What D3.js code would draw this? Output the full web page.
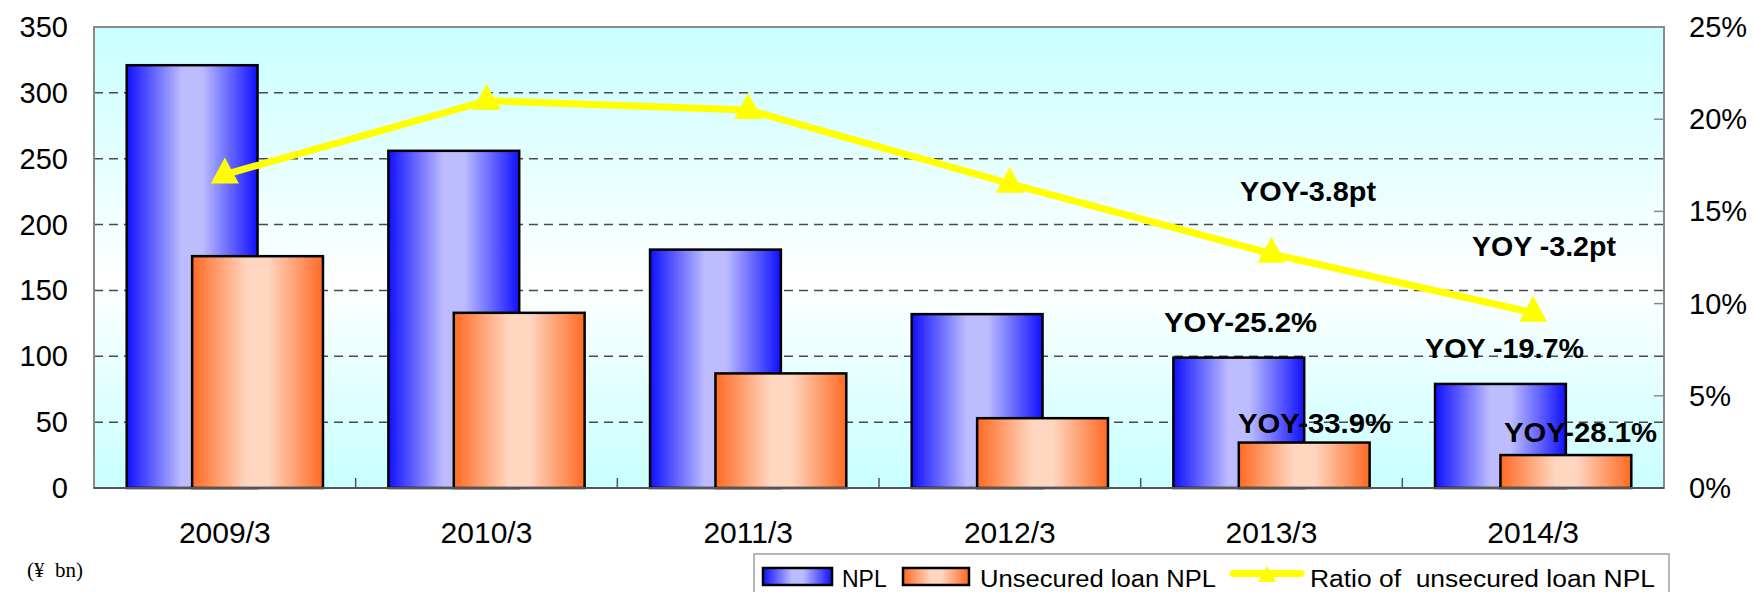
<!DOCTYPE html>
<html>
<head>
<meta charset="utf-8">
<script src="https://cdn.jsdelivr.net/npm/d3@7"></script>
<style>
  html, body { margin: 0; padding: 0; background: #ffffff; }
  svg { display: block; }
</style>
</head>
<body>
<svg id="chart" width="1756" height="592"></svg>
<script>
// ── DATA ──────────────────────────────────────────────────────────────────────
const categories   = ['2009/3', '2010/3', '2011/3', '2012/3', '2013/3', '2014/3'];
const nplValues    = [321, 256, 181, 132, 99, 79];
const unsecValues  = [176, 133, 87, 53, 34.5, 25];
const ratioValues  = [17.0, 21.0, 20.5, 16.5, 12.7, 9.5];   // %
const leftTicks    = [0, 50, 100, 150, 200, 250, 300, 350];
const rightTicks   = [0, 5, 10, 15, 20, 25];
const seriesNames  = ['NPL', 'Unsecured loan NPL', 'Ratio of  unsecured loan NPL'];
const annotations  = ['YOY-3.8pt', 'YOY -3.2pt', 'YOY-25.2%', 'YOY -19.7%', 'YOY-33.9%', 'YOY-28.1%'];
const unitLabel    = '(¥  bn)';

// ── LAYOUT ────────────────────────────────────────────────────────────────────
const W = 1756, H = 592;
const plot = { left: 94, top: 27, right: 1664, bottom: 488 };
const FONT = "'Liberation Sans', Arial, Helvetica, sans-serif";

// annotation placement (x start, baseline, fitted width)
const annotPos = [
  [1240, 201, 136],
  [1472, 256, 144],
  [1164, 332, 153],
  [1425, 358, 159],
  [1238, 433, 153],
  [1504, 442, 153],
];

const svg = d3.select('#chart');
const defs = svg.append('defs');

// ── GRADIENTS ─────────────────────────────────────────────────────────────────
const bg = defs.append('linearGradient').attr('id', 'plot-bg')
  .attr('x1', 0).attr('y1', 0).attr('x2', 0).attr('y2', 1);
bg.append('stop').attr('offset', '0%').attr('stop-color', '#c8ffff');
bg.append('stop').attr('offset', '55%').attr('stop-color', '#ffffff');
bg.append('stop').attr('offset', '100%').attr('stop-color', '#c8ffff');

function barGradient(id, edge, mid) {
  const g = defs.append('linearGradient').attr('id', id)
    .attr('x1', 0).attr('y1', 0).attr('x2', 1).attr('y2', 0);
  g.append('stop').attr('offset', '0%').attr('stop-color', edge);
  g.append('stop').attr('offset', '42%').attr('stop-color', mid);
  g.append('stop').attr('offset', '58%').attr('stop-color', mid);
  g.append('stop').attr('offset', '100%').attr('stop-color', edge);
}
barGradient('grad-npl', '#1010ff', '#bcbcff');
barGradient('grad-unsec', '#ff6a24', '#ffd6bf');

// ── SCALES ────────────────────────────────────────────────────────────────────
const x = d3.scaleBand().domain(categories).range([plot.left, plot.right]).padding(0);
const yL = d3.scaleLinear().domain([0, 350]).range([plot.bottom, plot.top]);
const yR = d3.scaleLinear().domain([0, 25]).range([plot.bottom, plot.top]);

const bw = x.bandwidth();
const barW = bw * 0.5;
const barOff = bw * 0.125;

// ── PLOT AREA ─────────────────────────────────────────────────────────────────
svg.append('rect')
  .attr('x', plot.left).attr('y', plot.top)
  .attr('width', plot.right - plot.left).attr('height', plot.bottom - plot.top)
  .attr('fill', 'url(#plot-bg)');

// gridlines (left axis)
svg.append('g').attr('class', 'grid')
  .selectAll('line')
  .data(leftTicks.filter(d => d > 0 && d < 350))
  .join('line')
  .attr('x1', plot.left).attr('x2', plot.right)
  .attr('y1', d => yL(d)).attr('y2', d => yL(d))
  .attr('stroke', '#4a4a4a')
  .attr('stroke-width', 1.5)
  .attr('stroke-dasharray', '9,6');

// plot frame
svg.append('rect')
  .attr('x', plot.left).attr('y', plot.top)
  .attr('width', plot.right - plot.left).attr('height', plot.bottom - plot.top)
  .attr('fill', 'none').attr('stroke', '#8a8a8a').attr('stroke-width', 2);

// ── BARS ──────────────────────────────────────────────────────────────────────
const bars = svg.append('g').attr('class', 'bars');

bars.selectAll('rect.npl')
  .data(categories)
  .join('rect')
  .attr('class', 'npl')
  .attr('x', d => x(d) + barOff)
  .attr('y', (d, i) => yL(nplValues[i]))
  .attr('width', barW)
  .attr('height', (d, i) => yL(0) - yL(nplValues[i]))
  .attr('fill', 'url(#grad-npl)')
  .attr('stroke', '#000').attr('stroke-width', 2.5);

bars.selectAll('rect.unsec')
  .data(categories)
  .join('rect')
  .attr('class', 'unsec')
  .attr('x', d => x(d) + barOff + barW / 2)
  .attr('y', (d, i) => yL(unsecValues[i]))
  .attr('width', barW)
  .attr('height', (d, i) => yL(0) - yL(unsecValues[i]))
  .attr('fill', 'url(#grad-unsec)')
  .attr('stroke', '#000').attr('stroke-width', 2.5);

// ── AXES ──────────────────────────────────────────────────────────────────────
// bottom axis line + category ticks
svg.append('line')
  .attr('x1', plot.left).attr('x2', plot.right)
  .attr('y1', plot.bottom).attr('y2', plot.bottom)
  .attr('stroke', '#555').attr('stroke-width', 2);

svg.append('g')
  .selectAll('line')
  .data(categories.slice(1))
  .join('line')
  .attr('x1', d => x(d)).attr('x2', d => x(d))
  .attr('y1', plot.bottom).attr('y2', plot.bottom - 10)
  .attr('stroke', '#555').attr('stroke-width', 1.5);

svg.append('g')
  .selectAll('text')
  .data(categories)
  .join('text')
  .attr('x', d => x(d) + bw / 2)
  .attr('y', 543)
  .attr('text-anchor', 'middle')
  .attr('font-family', FONT).attr('font-size', 30)
  .attr('fill', '#000')
  .text(d => d);

// left axis labels
svg.append('g')
  .selectAll('text')
  .data(leftTicks)
  .join('text')
  .attr('x', 68)
  .attr('y', d => yL(d) + 10)
  .attr('text-anchor', 'end')
  .attr('font-family', FONT).attr('font-size', 29)
  .attr('fill', '#000')
  .text(d => d);

// right axis inward ticks + labels
svg.append('g')
  .selectAll('line')
  .data(rightTicks.filter(d => d > 0 && d < 25))
  .join('line')
  .attr('x1', plot.right - 10).attr('x2', plot.right)
  .attr('y1', d => yR(d)).attr('y2', d => yR(d))
  .attr('stroke', '#8a8a8a').attr('stroke-width', 1.5);

svg.append('g')
  .selectAll('text')
  .data(rightTicks)
  .join('text')
  .attr('x', 1689)
  .attr('y', d => yR(d) + 10)
  .attr('text-anchor', 'start')
  .attr('font-family', FONT).attr('font-size', 29)
  .attr('fill', '#000')
  .text(d => d + '%');

// ── RATIO LINE ────────────────────────────────────────────────────────────────
const line = d3.line()
  .x((d, i) => x(categories[i]) + bw / 2)
  .y(d => yR(d));

svg.append('path')
  .datum(ratioValues)
  .attr('d', line)
  .attr('fill', 'none')
  .attr('stroke', '#ffff00')
  .attr('stroke-width', 7)
  .attr('stroke-linejoin', 'round');

const tri = 'M0,-17L14,9L-14,9Z';
svg.append('g')
  .selectAll('path')
  .data(ratioValues)
  .join('path')
  .attr('transform', (d, i) => `translate(${x(categories[i]) + bw / 2},${yR(d)})`)
  .attr('d', tri)
  .attr('fill', '#ffff00');

// ── ANNOTATIONS ───────────────────────────────────────────────────────────────
svg.append('g')
  .selectAll('text')
  .data(annotations)
  .join('text')
  .attr('x', (d, i) => annotPos[i][0])
  .attr('y', (d, i) => annotPos[i][1])
  .attr('textLength', (d, i) => annotPos[i][2])
  .attr('lengthAdjust', 'spacingAndGlyphs')
  .attr('font-family', FONT).attr('font-size', 28).attr('font-weight', 'bold')
  .attr('fill', '#000')
  .style('white-space', 'pre')
  .text(d => d);

// unit label
svg.append('text')
  .attr('x', 27).attr('y', 577)
  .attr('font-family', "'Liberation Serif', 'Times New Roman', serif")
  .attr('font-size', 21)
  .attr('fill', '#000')
  .style('white-space', 'pre')
  .text(unitLabel);

// ── LEGEND ────────────────────────────────────────────────────────────────────
const legend = svg.append('g').attr('class', 'legend');
legend.append('rect')
  .attr('x', 754).attr('y', 554)
  .attr('width', 915).attr('height', 60)
  .attr('fill', '#fff').attr('stroke', '#a0a0a0').attr('stroke-width', 1.5);

const swatchY = 568, swatchH = 17, textY = 587;
legend.append('rect')
  .attr('x', 763).attr('y', swatchY).attr('width', 69).attr('height', swatchH)
  .attr('fill', 'url(#grad-npl)').attr('stroke', '#000').attr('stroke-width', 2.5);
legend.append('text')
  .attr('x', 842).attr('y', textY)
  .attr('font-family', FONT).attr('font-size', 23).attr('fill', '#000')
  .text(seriesNames[0]);

legend.append('rect')
  .attr('x', 903).attr('y', swatchY).attr('width', 66).attr('height', swatchH)
  .attr('fill', 'url(#grad-unsec)').attr('stroke', '#000').attr('stroke-width', 2.5);
legend.append('text')
  .attr('x', 980).attr('y', textY)
  .attr('textLength', 236).attr('lengthAdjust', 'spacingAndGlyphs')
  .attr('font-family', FONT).attr('font-size', 23).attr('fill', '#000')
  .text(seriesNames[1]);

legend.append('line')
  .attr('x1', 1233).attr('x2', 1301).attr('y1', 573.5).attr('y2', 573.5)
  .attr('stroke', '#ffff00').attr('stroke-width', 7).attr('stroke-linecap', 'round');
legend.append('path')
  .attr('transform', 'translate(1267,576)')
  .attr('d', 'M0,-10L9,6L-9,6Z')
  .attr('fill', '#ffff00');
legend.append('text')
  .attr('x', 1310).attr('y', textY)
  .attr('textLength', 345).attr('lengthAdjust', 'spacingAndGlyphs')
  .attr('font-family', FONT).attr('font-size', 23).attr('fill', '#000')
  .style('white-space', 'pre')
  .text(seriesNames[2]);
</script>
</body>
</html>
